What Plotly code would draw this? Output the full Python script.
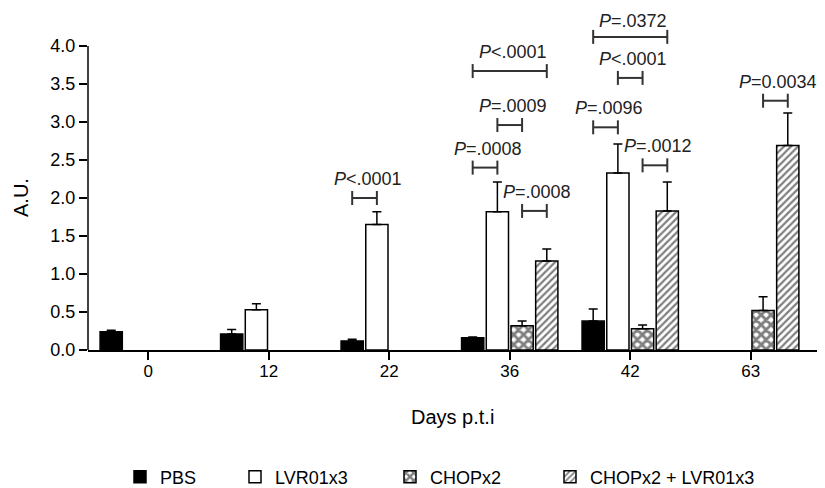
import plotly.graph_objects as go

# jours post-inoculation
days = ["0", "12", "22", "36", "42", "63"]

pbs = [0.24, 0.21, 0.12, 0.16, 0.38, None]
pbs_err = [0.02, 0.06, 0.02, 0.01, 0.16, None]

lvr = [None, 0.53, 1.65, 1.82, 2.33, None]
lvr_err = [None, 0.08, 0.17, 0.39, 0.38, None]

chop = [None, None, None, 0.32, 0.28, 0.52]
chop_err = [None, None, None, 0.06, 0.05, 0.18]

combo = [None, None, None, 1.17, 1.83, 2.69]
combo_err = [None, None, None, 0.16, 0.38, 0.43]

# comparaisons : (jour, groupe a, groupe b, texte)
comp_day = [2, 3, 3, 3, 3, 4, 4, 4, 4, 5]
comp_a = [0, 0, 1, 0, 2, 0, 1, 0, 2, 2]
comp_b = [1, 1, 2, 3, 3, 3, 2, 1, 3, 3]
comp_p = ["&lt;.0001", "=.0008", "=.0009", "&lt;.0001", "=.0008",
          "=.0372", "&lt;.0001", "=.0096", "=.0012", "=0.0034"]
# hauteur des crochets
comp_y = [2.0, 2.40, 2.96, 3.67, 1.83, 4.12, 3.58, 2.93, 2.43, 3.28]

police = "Liberation Sans, Arial, sans-serif"
bargap = 0.18
slot = (1 - bargap) / 4

# la page ajoute 8 px de marge autour de la figure
W, H = 817, 480
ml, mr, mt, mb = 80, 8, 0, 138
pw = W - ml - mr
ph = H - mt - mb

x = list(range(len(days)))

fig = go.Figure()

series = [
    ("PBS", pbs, pbs_err, dict(color="black")),
    ("LVR01x3", lvr, lvr_err, dict(color="white")),
    ("CHOPx2", chop, chop_err,
     dict(color="white", pattern=dict(shape="x", fgcolor="black", bgcolor="white", size=7, solidity=0.65))),
    ("CHOPx2 + LVR01x3", combo, combo_err,
     dict(color="white", pattern=dict(shape="/", fgcolor="black", bgcolor="white", size=5, solidity=0.45))),
]
legend_x = [112, 227, 382, 542]

for i, (nom, vals, errs, marker) in enumerate(series):
    marker["line"] = dict(color="black", width=1.5)
    fig.add_trace(go.Bar(
        x=x, y=vals, name=nom, marker=marker,
        error_y=dict(type="data", symmetric=False, array=errs,
                     arrayminus=[0 if e is not None else None for e in errs],
                     color="black", thickness=1.5, width=4.5),
        legend="legend" if i == 0 else "legend%d" % (i + 1),
        showlegend=True,
    ))

# crochets de significativité
for d, a, b, p, yy in zip(comp_day, comp_a, comp_b, comp_p, comp_y):
    xa = d + (a - 1.5) * slot
    xb = d + (b - 1.5) * slot
    fig.add_shape(type="line", x0=xa, x1=xb, y0=yy, y1=yy,
                  line=dict(color="#333", width=2))
    for xx in (xa, xb):
        fig.add_shape(type="line", x0=xx, x1=xx, ysizemode="pixel", yanchor=yy,
                      y0=-7, y1=7, line=dict(color="#333", width=2))
    fig.add_annotation(x=(xa + xb) / 2, y=yy, text="<i>P</i>" + p,
                       showarrow=False, yshift=16 if yy > 4 else 19, xshift=3,
                       font=dict(family=police, size=18, color="#222"))

# axe y limité à 4.0
fig.add_shape(type="line", xref="paper", x0=0, x1=0, y0=0, y1=4,
              line=dict(color="black", width=1.5))

fig.add_annotation(xref="paper", x=0, xshift=-80, xanchor="left", y=2, text="A.U.",
                   textangle=-90, showarrow=False,
                   font=dict(family=police, size=20, color="black"))
fig.add_annotation(xref="paper", x=0.5, yref="paper", y=0, yshift=-67, yanchor="middle",
                   text="Days p.t.i", showarrow=False,
                   font=dict(family=police, size=20, color="black"))

layout_legends = {}
for i, lx in enumerate(legend_x):
    key = "legend" if i == 0 else "legend%d" % (i + 1)
    layout_legends[key] = dict(orientation="h", x=(lx - ml) / pw, xanchor="left",
                               y=(ph - 469) / ph, yanchor="middle", bgcolor="rgba(0,0,0,0)",
                               font=dict(family=police, size=18, color="black"))

fig.update_layout(
    barmode="group", bargap=bargap, bargroupgap=0.1,
    width=W, height=H,
    margin=dict(l=ml, r=mr, t=mt, b=mb, autoexpand=False),
    showlegend=True,
    plot_bgcolor="white", paper_bgcolor="white",
    font=dict(family=police, size=17, color="black"),
    **layout_legends,
)
fig.update_xaxes(range=[-0.5, 5.55], tickvals=x, ticktext=days,
                 showline=True, linecolor="black", linewidth=1.5,
                 ticks="outside", ticklen=8, tickwidth=1.5, tickcolor="black",
                 ticklabelstandoff=-3,
                 showgrid=False, zeroline=False, tickfont=dict(size=17), automargin=False)
fig.update_yaxes(range=[0, 4.5], tickvals=[i * 0.5 for i in range(9)], tickformat=".1f",
                 ticks="outside", ticklen=8, tickwidth=1.5, tickcolor="black",
                 showline=False, showgrid=False, zeroline=False, tickfont=dict(size=18),
                 automargin=False)

fig.write_html("out.html")
